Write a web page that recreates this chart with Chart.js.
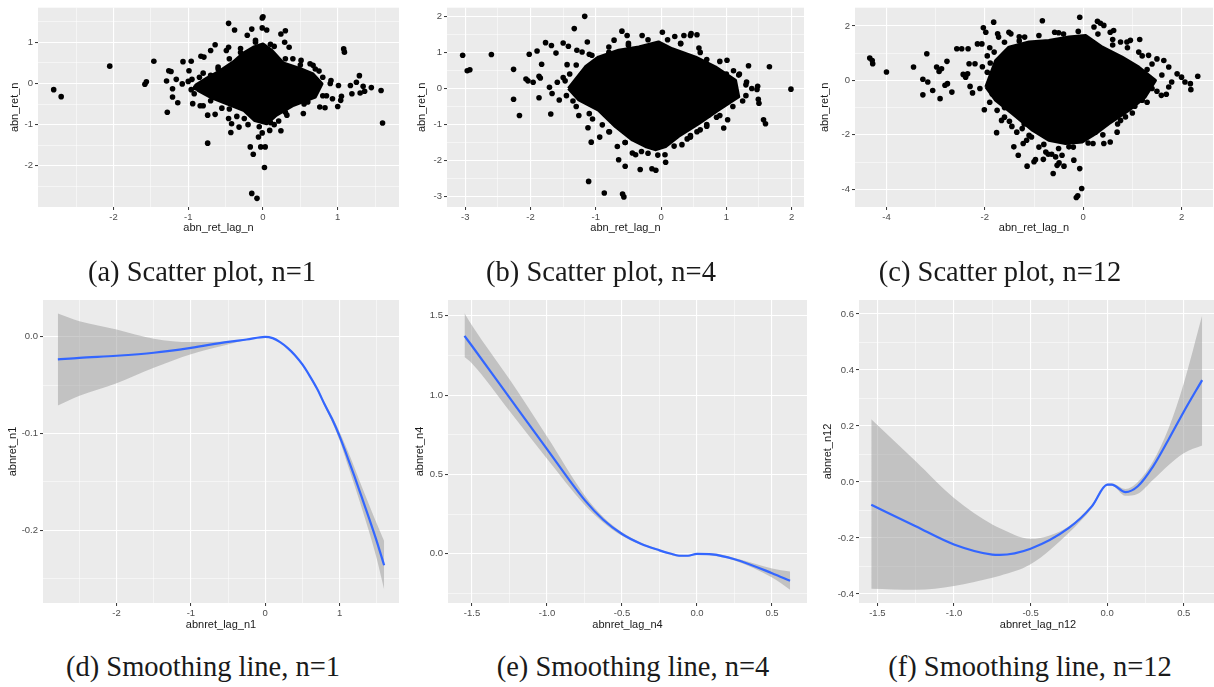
<!DOCTYPE html>
<html>
<head>
<meta charset="utf-8">
<script src="https://cdn.jsdelivr.net/npm/chart.js@4.4.0/dist/chart.umd.min.js"></script>
<style>
  body { margin: 0; background: #fff; width: 1214px; height: 687px; position: relative; overflow: hidden; }
  .panel { position: absolute; }
  .panel canvas { display: block; }
  .cap { position: absolute; font-family: "Liberation Serif", serif; font-size: 28.5px; line-height: 30px;
         white-space: nowrap; transform: translateX(-50%); color: #1a1a1a; }
</style>
</head>
<body>
<div class="panel" style="left:0;top:0"><canvas id="chart-a" width="405" height="245"></canvas></div>
<div class="panel" style="left:405px;top:0"><canvas id="chart-b" width="405" height="245"></canvas></div>
<div class="panel" style="left:810px;top:0"><canvas id="chart-c" width="407" height="245"></canvas></div>
<div class="panel" style="left:0;top:280px"><canvas id="chart-d" width="405" height="360"></canvas></div>
<div class="panel" style="left:405px;top:280px"><canvas id="chart-e" width="405" height="360"></canvas></div>
<div class="panel" style="left:810px;top:280px"><canvas id="chart-f" width="407" height="360"></canvas></div>

<div class="cap" style="left:202px;top:257px">(a) Scatter plot, n=1</div>
<div class="cap" style="left:601px;top:257px">(b) Scatter plot, n=4</div>
<div class="cap" style="left:1000px;top:257px">(c) Scatter plot, n=12</div>
<div class="cap" style="left:203px;top:652px">(d) Smoothing line, n=1</div>
<div class="cap" style="left:633px;top:652px">(e) Smoothing line, n=4</div>
<div class="cap" style="left:1030px;top:652px">(f) Smoothing line, n=12</div>

<script>
// --- (a) scatter n=1: dense core outline + single points ---
const aCore = [[-0.91,-0.05],[-0.75,0.13],[-0.58,0.30],[-0.40,0.52],[-0.26,0.74],[-0.13,0.88],[0.00,0.96],[0.12,0.80],
  [0.27,0.50],[0.50,0.36],[0.67,0.23],[0.79,-0.01],[0.70,-0.33],[0.41,-0.53],[0.18,-0.77],[0.05,-0.98],[-0.11,-0.90],
  [-0.26,-0.65],[-0.49,-0.49],[-0.71,-0.33],[-0.87,-0.17],[-0.91,-0.05]];
const aPoints = [[-2.80,-0.15],[-2.70,-0.32],[-2.05,0.42],[-1.46,0.54],[-1.58,-0.02],[-1.56,0.04],[-1.28,-0.70],
  [-1.29,0.06],[-1.26,0.31],[-1.23,0.29],[-1.21,-0.13],[-1.21,-0.33],[-1.16,0.10],[-1.14,-0.47],[-1.08,-0.01],
  [-1.07,0.53],[-0.96,0.54],[-0.99,0.31],[-0.96,-0.15],[-0.94,-0.49],[-0.84,-0.54],[-0.80,-0.54],[-0.83,0.66],
  [-0.79,0.64],[-0.74,-1.45],[-0.74,-0.77],[-0.70,0.80],[-0.64,0.94],[-0.64,-0.75],[-0.46,-0.85],[-0.46,1.46],
  [-0.43,-1.19],[-0.42,-0.98],[-0.49,0.80],[-0.46,0.88],[-0.38,1.30],[-0.32,-1.06],[-0.21,1.17],[-0.17,-1.54],
  [-0.15,-2.67],[-0.08,-2.79],[-0.13,-1.72],[-0.15,1.32],[-0.03,-1.54],[0.03,-1.54],[0.02,-2.04],[-0.01,1.59],
  [0.00,1.62],[-0.01,1.35],[0.05,1.30],[0.09,-1.14],[-0.01,-1.20],[-0.06,-1.30],[0.24,-1.15],[0.24,1.20],[0.30,1.28],
  [0.29,1.00],[0.35,0.88],[0.21,-0.91],[0.32,-0.77],[0.54,-0.73],[0.51,0.56],[0.63,0.48],[0.67,0.44],[0.76,-0.57],
  [0.83,-0.59],[0.91,0.07],[0.93,-0.37],[1.00,-0.56],[1.04,-0.41],[1.01,-0.05],[1.08,0.84],[1.09,0.76],[1.17,-0.05],
  [1.19,-0.25],[1.25,0.03],[1.29,0.19],[1.30,-0.23],[1.36,-0.19],[1.34,-0.07],[1.45,-0.10],[1.58,-0.17],[1.60,-0.96],
  [1.05,-0.31],[-0.90,-0.10],[-0.85,0.15],[-0.60,0.40],[-0.55,-0.60],[-0.30,0.75],[-0.20,-1.00],[0.15,-1.00],
  [0.40,0.60],[0.60,-0.45],[0.80,0.15],[0.85,-0.30],[-0.10,1.00],[0.10,0.95],[-0.35,-0.80],[0.70,0.35],[-1.00,0.05],
  [-0.70,0.20],[-0.95,0.10],[-0.80,0.25],[-0.60,0.35],[-0.45,0.60],[-0.30,0.85],[-0.10,1.05],[0.15,0.90],[0.30,0.60],
  [0.50,0.45],[0.75,0.30],[0.90,0.00],[0.80,-0.30],[0.55,-0.50],[0.30,-0.70],[0.10,-0.95],[-0.05,-1.05],[-0.25,-0.85],
  [-0.45,-0.62],[-0.70,-0.42],[-0.92,-0.25]];
const aXTicks = [-2, -1, 0, 1];
const aXLabels = ['-2', '-1', '0', '1'];
const aXMinor = [-2.5, -1.5, -0.5, 0.5, 1.5];
const aYTicks = [-2, -1, 0, 1];
const aYLabels = ['-2', '-1', '0', '1'];
const aYMinor = [-2.5, -1.5, -0.5, 0.5, 1.5];

// --- (b) scatter n=4 ---
const bCore = [[-1.42,0.00],[-1.16,0.60],[-0.96,0.87],[-0.65,1.06],[-0.34,1.15],[-0.04,1.29],[0.17,1.10],[0.53,0.87],
  [0.83,0.60],[1.14,0.23],[1.19,-0.23],[0.88,-0.60],[0.58,-0.97],[0.27,-1.33],[0.07,-1.61],[-0.09,-1.70],[-0.24,-1.61],
  [-0.44,-1.43],[-0.70,-1.06],[-0.96,-0.60],[-1.26,-0.32],[-1.42,0.00]];
const bPoints = [[-3.04,0.92],[-2.97,0.49],[-2.93,0.52],[-2.60,0.94],[-2.26,0.53],[-2.26,-0.30],[-2.17,-0.75],
  [-2.07,0.26],[-2.04,0.21],[-2.02,0.95],[-1.96,0.17],[-1.90,1.04],[-1.87,0.34],[-1.85,0.29],[-1.87,-0.26],[-1.83,0.67],
  [-1.77,1.27],[-1.68,1.19],[-1.69,-0.71],[-1.71,0.03],[-1.67,-0.14],[-1.61,0.98],[-1.59,0.17],[-1.56,-0.32],
  [-1.50,1.26],[-1.42,1.17],[-1.47,0.21],[-1.44,0.66],[-1.33,1.66],[-1.29,1.06],[-1.26,-0.75],[-1.21,1.01],[-1.17,2.00],
  [-1.13,1.29],[-1.12,-1.09],[-1.11,-2.58],[-1.07,-1.49],[-1.06,0.92],[-1.03,0.32],[-0.94,-1.35],[-0.90,-1.01],
  [-0.87,-2.90],[-0.79,-1.20],[-0.72,1.34],[-0.67,-1.61],[-0.65,-1.98],[-0.60,1.59],[-0.59,-2.93],[-0.57,-3.01],
  [-0.55,-2.16],[-0.52,1.47],[-0.44,-1.79],[-0.39,-1.84],[-0.32,-2.25],[-0.29,1.47],[-0.14,-2.23],[-0.08,-2.27],
  [0.02,1.56],[0.06,-1.84],[0.07,-2.05],[0.21,1.44],[0.30,1.24],[0.35,1.47],[0.45,1.47],[0.46,1.52],[0.55,1.49],
  [0.58,1.12],[0.32,-1.56],[0.45,-1.31],[0.55,-1.20],[0.60,-1.15],[0.73,-0.74],[0.85,-0.80],[0.96,-1.10],[1.02,-0.87],
  [1.01,0.78],[1.11,0.49],[1.19,0.37],[1.31,0.18],[1.34,0.63],[1.39,0.00],[1.47,-0.03],[1.49,-0.30],[1.50,-0.41],
  [1.57,-0.87],[1.60,-0.98],[1.66,0.60],[1.99,-0.02],[1.48,0.06],[-1.40,0.40],[-1.35,-0.35],[-1.10,-0.70],
  [-0.80,1.00],[-0.50,1.25],[0.10,1.35],[0.70,0.80],[1.00,0.40],[1.25,-0.35],[0.70,-1.00],[0.40,-1.40],[-0.20,-1.80],
  [-0.55,-1.50],[-1.50,0.30],[-1.45,-0.20],[-1.30,0.65],[-1.10,0.95],[-0.80,1.15],[-0.50,1.20],[-0.20,1.35],[0.30,1.25],
  [0.60,1.00],[0.90,0.75],[1.20,0.40],[1.30,0.10],[1.30,-0.20],[1.10,-0.50],[0.90,-0.75],[0.70,-1.05],[0.45,-1.35],
  [0.20,-1.60],[-0.05,-1.85],[-0.30,-1.75],[-0.55,-1.50],[-0.80,-1.20],[-1.05,-0.85],[-1.30,-0.50]];
const bXTicks = [-3, -2, -1, 0, 1, 2];
const bXLabels = ['-3', '-2', '-1', '0', '1', '2'];
const bXMinor = [-2.5, -1.5, -0.5, 0.5, 1.5];
const bYTicks = [-3, -2, -1, 0, 1, 2];
const bYLabels = ['-3', '-2', '-1', '0', '1', '2'];
const bYMinor = [-2.5, -1.5, -0.5, 0.5, 1.5];

// --- (c) scatter n=12 ---
const cCore = [[-1.98,-0.24],[-1.78,0.73],[-1.51,1.22],[-1.10,1.41],[-0.70,1.47],[-0.29,1.59],[0.05,1.65],[0.39,1.22],
  [0.79,0.86],[1.13,0.49],[1.47,0.00],[1.26,-0.61],[0.93,-1.10],[0.52,-1.59],[0.25,-1.96],[-0.02,-2.26],[-0.36,-2.32],
  [-0.70,-2.20],[-1.03,-1.83],[-1.44,-1.22],[-1.78,-0.73],[-1.98,-0.24]];
const cPoints = [[-4.34,0.82],[-4.29,0.73],[-4.28,0.61],[-4.00,0.31],[-3.45,0.49],[-3.26,0.04],[-3.26,-0.53],
  [-3.18,0.98],[-3.16,-0.06],[-3.06,-0.37],[-2.98,0.49],[-2.93,0.33],[-2.88,0.43],[-2.91,-0.67],[-2.81,-0.18],
  [-2.77,0.70],[-2.76,-0.12],[-2.67,-0.43],[-2.57,1.16],[-2.47,1.16],[-2.44,0.22],[-2.35,0.24],[-2.39,0.12],[-2.34,1.16],
  [-2.32,0.61],[-2.30,-0.22],[-2.25,-0.46],[-2.20,0.61],[-2.15,1.34],[-2.06,1.34],[-2.03,1.93],[-1.98,1.77],[-2.01,-1.08],
  [-1.89,0.64],[-1.82,2.14],[-1.81,1.04],[-1.76,-1.92],[-1.74,1.71],[-1.72,1.59],[-1.70,0.31],[-1.66,-1.47],[-1.51,1.77],
  [-1.47,1.71],[-1.45,-1.69],[-1.41,-2.44],[-1.32,-2.75],[-1.24,-1.77],[-1.22,-2.32],[-1.19,1.59],[-1.14,-3.15],
  [-1.10,-2.02],[-1.05,-2.08],[-1.00,-2.99],[-0.97,-2.91],[-0.83,2.19],[-0.81,-2.90],[-0.76,-2.63],[-0.71,-2.71],
  [-0.64,-2.71],[-0.61,-3.42],[-0.58,1.77],[-0.56,-2.81],[-0.53,-3.12],[-0.49,-3.03],[-0.43,-2.75],[-0.39,-3.15],
  [-0.29,-2.44],[-0.19,-2.93],[-0.14,-4.30],[-0.11,-4.24],[-0.03,-3.97],[-0.07,-3.24],[-0.07,2.32],[0.22,1.96],
  [0.29,2.17],[0.35,2.10],[0.42,2.02],[0.55,1.77],[0.62,1.83],[0.76,1.41],[0.89,1.41],[0.96,1.47],[1.13,1.04],[1.15,1.50],
  [1.33,0.92],[1.50,0.79],[1.64,0.73],[1.74,0.49],[1.74,-0.24],[1.59,-0.55],[1.69,-0.51],[1.80,-0.06],[1.91,0.24],
  [2.00,0.12],[2.07,-0.06],[2.18,-0.12],[2.19,-0.34],[2.33,0.15],[1.20,-0.73],[0.86,-1.34],[0.69,-1.90],[0.55,-2.26],
  [0.42,-2.32],[0.76,-1.47],[0.25,-1.90],[0.20,-2.32],[-1.95,0.30],[-1.85,-0.50],[-1.60,-1.00],[-1.30,1.45],
  [-0.40,1.70],[0.60,1.30],[1.30,0.40],[1.40,-0.30],[1.05,-0.95],[-0.80,-2.35],[-1.20,-1.60],[-1.90,1.20],[-1.95,0.90],
  [-2.05,0.50],[-2.10,-0.30],[-1.90,-0.80],[-1.75,-1.10],[-1.60,-1.35],[-1.50,-1.50],[-1.35,-1.90],[-1.15,-2.20],
  [-0.90,-2.45],[-0.50,-2.50],[-0.20,-2.45],[0.10,-2.30],[0.40,-2.00],[0.70,-1.60],[1.00,-1.20],[1.30,-0.80],[1.50,-0.40],
  [1.60,0.20],[1.40,0.60],[1.20,0.90],[0.90,1.20],[0.60,1.50],[0.30,1.70],[-0.10,1.80],[-0.50,1.75],[-0.90,1.65],
  [-1.30,1.60],[-1.60,1.40]];
const cXTicks = [-4, -2, 0, 2];
const cXLabels = ['-4', '-2', '0', '2'];
const cXMinor = [-3, -1, 1];
const cYTicks = [-4, -2, 0, 2];
const cYLabels = ['-4', '-2', '0', '2'];
const cYMinor = [-3, -1, 1];

// --- (d) smoothing n=1 ---
const dX = [-2.79, -2.5, -2.0, -1.5, -1.0, -0.5, -0.25, 0, 0.1, 0.2, 0.3, 0.4, 0.5, 0.6, 0.7, 0.8, 0.9, 1.0, 1.1, 1.2, 1.3, 1.4, 1.5, 1.6];
const dFit = [-0.0234, -0.0217, -0.0196, -0.0165, -0.0114, -0.0052, -0.0028, 0.0, -0.0014, -0.0055, -0.0114, -0.019,
  -0.0286, -0.0406, -0.054, -0.070, -0.085, -0.1026, -0.123, -0.144, -0.166, -0.188, -0.211, -0.236];
const dUpper = [0.024, 0.016, 0.0076, -0.002, -0.0055, -0.0045, -0.0024, 0.0003, -0.001, -0.0048, -0.0105, -0.018,
  -0.0275, -0.0395, -0.0525, -0.068, -0.082, -0.098, -0.116, -0.135, -0.155, -0.174, -0.193, -0.211];
const dLower = [-0.071, -0.061, -0.048, -0.032, -0.018, -0.0079, -0.0034, -0.0003, -0.0018, -0.0062, -0.0123, -0.020,
  -0.0297, -0.0417, -0.0555, -0.072, -0.088, -0.107, -0.130, -0.153, -0.177, -0.202, -0.229, -0.261];
const dXTicks = [-2, -1, 0, 1];
const dXLabels = ['-2', '-1', '0', '1'];
const dXMinor = [-2.5, -1.5, -0.5, 0.5, 1.5];
const dYTicks = [-0.2, -0.1, 0];
const dYLabels = ['-0.2', '-0.1', '0.0'];
const dYMinor = [-0.25, -0.15, -0.05];

// --- (e) smoothing n=4 ---
const eX = [-1.55, -1.5, -1.25, -1.0, -0.75, -0.625, -0.5, -0.375, -0.25, -0.18, -0.12, -0.06, 0, 0.1, 0.25, 0.5, 0.62];
const eFit = [1.374, 1.31, 0.985, 0.66, 0.34, 0.215, 0.125, 0.064, 0.022, 0.002, -0.012, -0.012, 0.0, -0.003, -0.034, -0.122, -0.170];
const eUpper = [1.517, 1.44, 1.10, 0.74, 0.37, 0.232, 0.136, 0.071, 0.028, 0.008, -0.006, -0.007, 0.004, 0.004, -0.026, -0.092, -0.112];
const eLower = [1.24, 1.20, 0.90, 0.60, 0.31, 0.198, 0.114, 0.057, 0.016, -0.004, -0.018, -0.017, -0.004, -0.010, -0.042, -0.150, -0.227];
const eXTicks = [-1.5, -1.0, -0.5, 0, 0.5];
const eXLabels = ['-1.5', '-1.0', '-0.5', '0.0', '0.5'];
const eXMinor = [-1.25, -0.75, -0.25, 0.25];
const eYTicks = [0, 0.5, 1.0, 1.5];
const eYLabels = ['0.0', '0.5', '1.0', '1.5'];
const eYMinor = [-0.25, 0.25, 0.75, 1.25];

// --- (f) smoothing n=12 ---
const fX = [-1.54, -1.25, -1.0, -0.75, -0.7, -0.5, -0.25, -0.1, 0, 0.03, 0.12, 0.2, 0.3, 0.4, 0.5, 0.62];
const fFit = [-0.081, -0.158, -0.223, -0.259, -0.260, -0.238, -0.164, -0.087, -0.0095, -0.009, -0.036, -0.015, 0.056, 0.151, 0.251, 0.364];
const fUpper = [0.224, 0.074, -0.057, -0.152, -0.165, -0.203, -0.158, -0.080, -0.006, -0.005, -0.025, 0.000, 0.074, 0.190, 0.352, 0.595];
const fLower = [-0.381, -0.385, -0.371, -0.342, -0.335, -0.294, -0.181, -0.094, -0.013, -0.013, -0.049, -0.042, 0.008, 0.060, 0.103, 0.130];
const fXTicks = [-1.5, -1.0, -0.5, 0, 0.5];
const fXLabels = ['-1.5', '-1.0', '-0.5', '0.0', '0.5'];
const fXMinor = [-1.25, -0.75, -0.25, 0.25];
const fYTicks = [-0.4, -0.2, 0, 0.2, 0.4, 0.6];
const fYLabels = ['-0.4', '-0.2', '0.0', '0.2', '0.4', '0.6'];
const fYMinor = [-0.3, -0.1, 0.1, 0.3, 0.5];

// grey ggplot panel behind the plot area
const panelBg = {
    id: 'panelBg',
    beforeDraw(chart) {
        const { ctx, chartArea: a } = chart;
        ctx.save();
        ctx.fillStyle = '#ebebeb';
        ctx.fillRect(a.left, a.top, a.right - a.left, a.bottom - a.top);
        ctx.restore();
    }
};

document.addEventListener('DOMContentLoaded', () => {
    Chart.defaults.font.family = 'Liberation Sans';

    makeScatter('chart-a', aCore, aPoints, {
        x: [-3.01, 1.82, aXTicks, aXMinor, aXLabels, 'abn_ret_lag_n', 10.4, 38],
        y: [-3.0, 1.84, aYTicks, aYMinor, aYLabels, 'abn_ret_n', 8.4, 38],
        pad: { top: 7, right: 6 }
    });
    makeScatter('chart-b', bCore, bPoints, {
        x: [-3.28, 2.19, bXTicks, bXMinor, bXLabels, 'abn_ret_lag_n', 10.4, 38],
        y: [-3.29, 2.24, bYTicks, bYMinor, bYLabels, 'abn_ret_n', 10.4, 42],
        pad: { top: 7, right: 6 }
    });
    makeScatter('chart-c', cCore, cPoints, {
        x: [-4.64, 2.64, cXTicks, cXMinor, cXLabels, 'abn_ret_lag_n', 10.4, 38],
        y: [-4.65, 2.67, cYTicks, cYMinor, cYLabels, 'abn_ret_n', 8.4, 45],
        pad: { top: 7, right: 0 }
    });
    makeSmooth('chart-d', dX, dFit, dLower, dUpper, {
        x: [-2.99, 1.80, dXTicks, dXMinor, dXLabels, 'abnret_lag_n1', 8.4, 37],
        y: [-0.275, 0.038, dYTicks, dYMinor, dYLabels, 'abnret_n1', 6.4, 43],
        pad: { top: 20, right: 6 }
    });
    makeSmooth('chart-e', eX, eFit, eLower, eUpper, {
        x: [-1.66, 0.733, eXTicks, eXMinor, eXLabels, 'abnret_lag_n4', 8.4, 37],
        y: [-0.31, 1.60, eYTicks, eYMinor, eYLabels, 'abnret_n4', 8.4, 43],
        pad: { top: 20, right: 3 }
    });
    makeSmooth('chart-f', fX, fFit, fLower, fUpper, {
        x: [-1.62, 0.717, fXTicks, fXMinor, fXLabels, 'abnret_lag_n12', 8.4, 37],
        y: [-0.432, 0.65, fYTicks, fYMinor, fYLabels, 'abnret_n12', 11.4, 49],
        pad: { top: 20, right: 0 }
    });
});

function isMajor(value, major) {
    return major.some(m => Math.abs(m - value) < 1e-9);
}

function makeScale(axis, [min, max, major, minor, labels, title, titlePad, size]) {
    const all = major.concat(minor).sort((p, q) => p - q);
    return {
        type: 'linear',
        position: axis === 'x' ? 'bottom' : 'left',
        min: min,
        max: max,
        border: { display: false },
        grid: {
            color: '#ffffff',
            lineWidth: ctx => (ctx.tick && isMajor(ctx.tick.value, major)) ? 1.1 : 0.5,
            drawTicks: true,
            tickLength: 3,
            tickWidth: 1,
            tickColor: ctx => (ctx.tick && isMajor(ctx.tick.value, major)) ? '#333333' : 'rgba(0,0,0,0)'
        },
        ticks: {
            autoSkip: false,
            maxRotation: 0,
            padding: 2,
            color: '#4d4d4d',
            font: { size: 9.5 },
            callback: value => {
                const i = major.findIndex(m => Math.abs(m - value) < 1e-9);
                return i < 0 ? '' : labels[i];
            }
        },
        title: {
            display: true,
            text: title,
            color: '#1a1a1a',
            font: { size: 11 },
            padding: axis === 'x' ? { top: 0, bottom: titlePad } : { top: titlePad, bottom: 0 }
        },
        afterBuildTicks: scale => {
            scale.ticks = all.map(v => ({ value: v }));
        },
        afterFit: scale => {
            if (axis === 'x') scale.height = size;
            else scale.width = size;
        }
    };
}

function baseOptions(cfg) {
    return {
        responsive: false,
        animation: false,
        events: [],
        layout: { padding: { top: cfg.pad.top, right: cfg.pad.right, bottom: 0, left: 0 } },
        plugins: { legend: { display: false }, tooltip: { enabled: false } },
        scales: { x: makeScale('x', cfg.x), y: makeScale('y', cfg.y) }
    };
}

function toXY(pairs) {
    return pairs.map(p => ({ x: p[0], y: p[1] }));
}

function makeScatter(id, core, points, cfg) {
    new Chart(document.getElementById(id), {
        type: 'line',
        data: {
            datasets: [{
                data: toXY(points),
                showLine: false,
                pointRadius: 2.8,
                pointBackgroundColor: '#000',
                pointBorderWidth: 0
            }, {
                // the solid black mass where points overlap
                data: toXY(core),
                fill: 'shape',
                backgroundColor: '#000',
                borderColor: '#000',
                borderWidth: 3,
                borderJoinStyle: 'round',
                pointRadius: 0,
                tension: 0
            }]
        },
        options: baseOptions(cfg),
        plugins: [panelBg]
    });
}

function makeSmooth(id, xs, fit, lower, upper, cfg) {
    const pts = ys => xs.map((x, i) => ({ x: x, y: ys[i] }));
    new Chart(document.getElementById(id), {
        type: 'line',
        data: {
            datasets: [{
                data: pts(lower),
                order: 2,
                fill: false,
                borderWidth: 0,
                pointRadius: 0,
                cubicInterpolationMode: 'monotone'
            }, {
                data: pts(upper),
                order: 1,
                fill: '-1',
                backgroundColor: 'rgba(153,153,153,0.5)',
                borderWidth: 0,
                pointRadius: 0,
                cubicInterpolationMode: 'monotone'
            }, {
                data: pts(fit),
                order: 0,
                fill: false,
                borderColor: '#3366FF',
                borderWidth: 2.2,
                pointRadius: 0,
                cubicInterpolationMode: 'monotone'
            }]
        },
        options: baseOptions(cfg),
        plugins: [panelBg]
    });
}
</script>
</body>
</html>
